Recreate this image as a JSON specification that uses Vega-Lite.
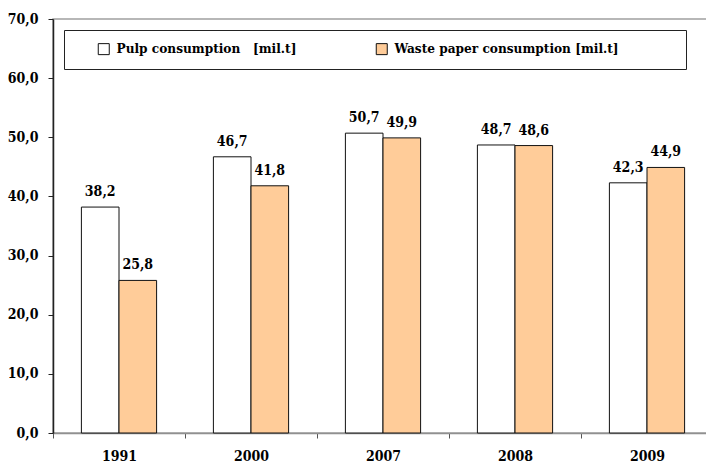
{
  "$schema": "https://vega.github.io/schema/vega-lite/v6.json",
  "width": 660,
  "height": 414,
  "autosize": {"type": "none"},
  "padding": {"left": 53, "top": 19, "right": 0, "bottom": 33},
  "background": "white",
  "config": {
    "locale": {"number": {"decimal": ",", "thousands": ".", "grouping": [3], "currency": ["", ""]}},
    "view": {"stroke": "#a0a0a0", "strokeWidth": 1.5},
    "font": "DejaVu Serif Condensed"
  },
  "data": {
    "values": [
      {"year": "1991", "series": "Pulp consumption   [mil.t]", "value": 38.2},
      {"year": "1991", "series": "Waste paper consumption [mil.t]", "value": 25.8},
      {"year": "2000", "series": "Pulp consumption   [mil.t]", "value": 46.7},
      {"year": "2000", "series": "Waste paper consumption [mil.t]", "value": 41.8},
      {"year": "2007", "series": "Pulp consumption   [mil.t]", "value": 50.7},
      {"year": "2007", "series": "Waste paper consumption [mil.t]", "value": 49.9},
      {"year": "2008", "series": "Pulp consumption   [mil.t]", "value": 48.7},
      {"year": "2008", "series": "Waste paper consumption [mil.t]", "value": 48.6},
      {"year": "2009", "series": "Pulp consumption   [mil.t]", "value": 42.3},
      {"year": "2009", "series": "Waste paper consumption [mil.t]", "value": 44.9}
    ]
  },
  "encoding": {
    "x": {
      "field": "year", "type": "nominal", "title": null,
      "scale": {"paddingInner": 0, "paddingOuter": 0},
      "axis": {
        "labelAngle": 0, "tickBand": "extent", "domainColor": "#909090", "domainWidth": 1.5,
        "tickColor": "#555", "tickSize": 5, "labelPadding": 11,
        "labelFont": "DejaVu Serif Condensed", "labelFontSize": 14, "labelFontWeight": "bold", "labelColor": "black"
      }
    },
    "xOffset": {
      "field": "series", "type": "nominal",
      "scale": {"paddingInner": 0, "paddingOuter": 0.755}
    },
    "y": {
      "field": "value", "type": "quantitative", "title": null,
      "scale": {"domain": [0, 70], "nice": false},
      "axis": {
        "values": [0, 10, 20, 30, 40, 50, 60, 70], "format": ".1f", "grid": false,
        "domainColor": "#222", "domainWidth": 1.5, "tickColor": "#222", "tickSize": 5, "labelPadding": 10,
        "labelFont": "DejaVu Serif Condensed", "labelFontSize": 14, "labelFontWeight": "bold", "labelColor": "black"
      }
    }
  },
  "layer": [
    {
      "mark": {"type": "bar", "stroke": "#111", "strokeWidth": 1},
      "encoding": {
        "fill": {
          "field": "series", "type": "nominal",
          "scale": {"domain": ["Pulp consumption   [mil.t]", "Waste paper consumption [mil.t]"], "range": ["#ffffff", "#ffcc99"]},
          "legend": {
            "orient": "none", "legendX": 11, "legendY": 11, "direction": "horizontal",
            "title": "\u00a0", "titleOrient": "left", "titleFontSize": 10, "titlePadding": 21,
            "strokeColor": "#222", "padding": 12,
            "symbolType": "square", "symbolSize": 121, "symbolStrokeColor": "#111", "symbolStrokeWidth": 1,
            "labelFont": "DejaVu Serif Condensed", "labelFontSize": 13.5, "labelFontWeight": "bold", "labelColor": "black",
            "labelOffset": 6, "columnPadding": 77, "labelLimit": 500,
            "labelExpr": "indexof(datum.label, 'Waste') >= 0 ? datum.label + '\u00a0\u00a0\u00a0\u00a0\u00a0\u00a0\u00a0\u00a0\u00a0\u00a0\u00a0\u00a0\u00a0\u200b' : replace(datum.label, '   ', '\u00a0\u00a0\u00a0')"
          }
        }
      }
    },
    {
      "mark": {"type": "text", "baseline": "alphabetic", "dy": -11, "font": "DejaVu Serif Condensed", "fontSize": 14, "fontWeight": "bold", "color": "black"},
      "encoding": {
        "text": {"field": "value", "type": "quantitative", "format": ".1f"}
      }
    }
  ]
}
